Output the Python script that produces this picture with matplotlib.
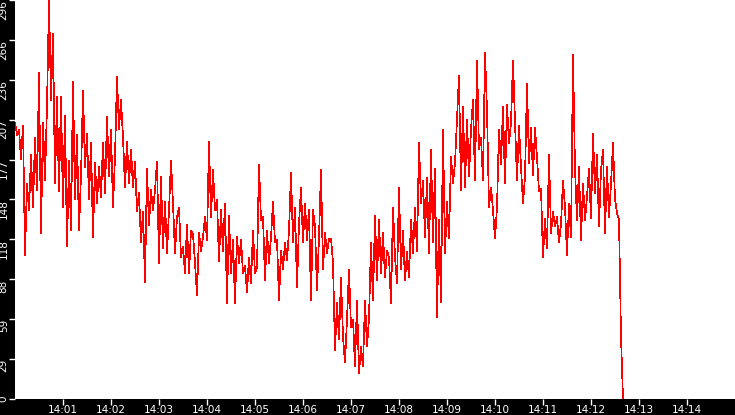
import numpy as np
import matplotlib
matplotlib.use('Agg')
import matplotlib.pyplot as plt

# one sample every 2.5 s starting at 14:00:00
start_hour = 14
step_sec = 2.5
values = [
    205, 196, 200, 178, 203, 107, 160, 140, 181, 142, 194, 155,
    242, 123, 205, 162, 218, 296, 222, 271, 160, 224, 154, 224,
    142, 210, 113, 177, 125, 235, 148, 196, 125, 166, 229, 172,
    197, 148, 190, 120, 175, 145, 172, 150, 190, 153, 209, 165,
    200, 142, 180, 239, 200, 222, 194, 157, 191, 160, 185, 157,
    176, 139, 153, 116, 139, 87, 171, 129, 155, 140, 155, 176,
    101, 165, 112, 146, 108, 140, 177, 145, 108, 135, 142, 105,
    113, 93, 129, 93, 125, 122, 101, 77, 123, 110, 120, 135,
    118, 191, 135, 170, 140, 148, 102, 140, 110, 145, 71, 136,
    93, 118, 71, 120, 101, 118, 93, 99, 79, 105, 86, 125,
    93, 98, 174, 133, 135, 88, 125, 101, 120, 146, 116, 118,
    73, 110, 96, 116, 103, 125, 168, 116, 142, 83, 130, 157,
    116, 145, 118, 140, 73, 140, 128, 81, 120, 170, 96, 123,
    108, 119, 119, 101, 36, 71, 44, 90, 46, 27, 59, 96,
    53, 59, 24, 73, 19, 39, 24, 73, 39, 60, 116, 73,
    136, 88, 133, 93, 123, 90, 110, 105, 71, 142, 105, 86,
    157, 96, 125, 88, 109, 90, 133, 108, 142, 110, 190, 145,
    162, 120, 164, 108, 185, 116, 171, 61, 133, 72, 200, 108,
    146, 119, 180, 160, 175, 208, 240, 155, 217, 157, 207, 165,
    200, 222, 162, 251, 185, 194, 162, 257, 214, 142, 157, 140,
    119, 142, 200, 174, 217, 160, 218, 190, 205, 251, 205, 162,
    203, 172, 145, 165, 234, 175, 201, 166, 201, 179, 154, 156,
    105, 134, 112, 181, 123, 139, 128, 135, 116, 130, 162, 142,
    107, 145, 120, 255, 171, 133, 172, 118, 160, 133, 150, 171,
    134, 197, 153, 181, 128, 170, 185, 123, 172, 135, 160, 190,
    148, 138, 133, 46, 0,
]
y_max = 296
minute_ticks = list(range(1, 15))

t_min = np.arange(len(values)) * step_sec / 60.0

fig = plt.figure(figsize=(7.35, 4.15), dpi=100, facecolor='black')
ax = fig.add_axes([15 / 735, 16 / 415, 720 / 735, 399 / 415])
ax.set_facecolor('white')
ax.plot(t_min, values, color='#ff0000', linewidth=0.5, antialiased=False)

ax.set_xlim(0, 15)
ax.set_ylim(0, y_max)

yticks = [y_max * i / 10 for i in range(11)]
ax.set_yticks(yticks)
ax.set_yticklabels([str(int(v)) for v in yticks], rotation=90, va='top')
ax.yaxis.get_ticklabels()[0].set_va('center')
ax.set_xticks(minute_ticks)
ax.set_xticklabels(['%d:%02d' % (start_hour, m) for m in minute_ticks])

ax.tick_params(axis='both', colors='white', labelcolor='white', labelsize=7.5,
               length=4, width=1, direction='out')
ax.tick_params(axis='y', pad=0.5)
ax.tick_params(axis='x', pad=0.5)
for s in ax.spines.values():
    s.set_visible(False)

plt.savefig('out.png', dpi=100, facecolor='black')
